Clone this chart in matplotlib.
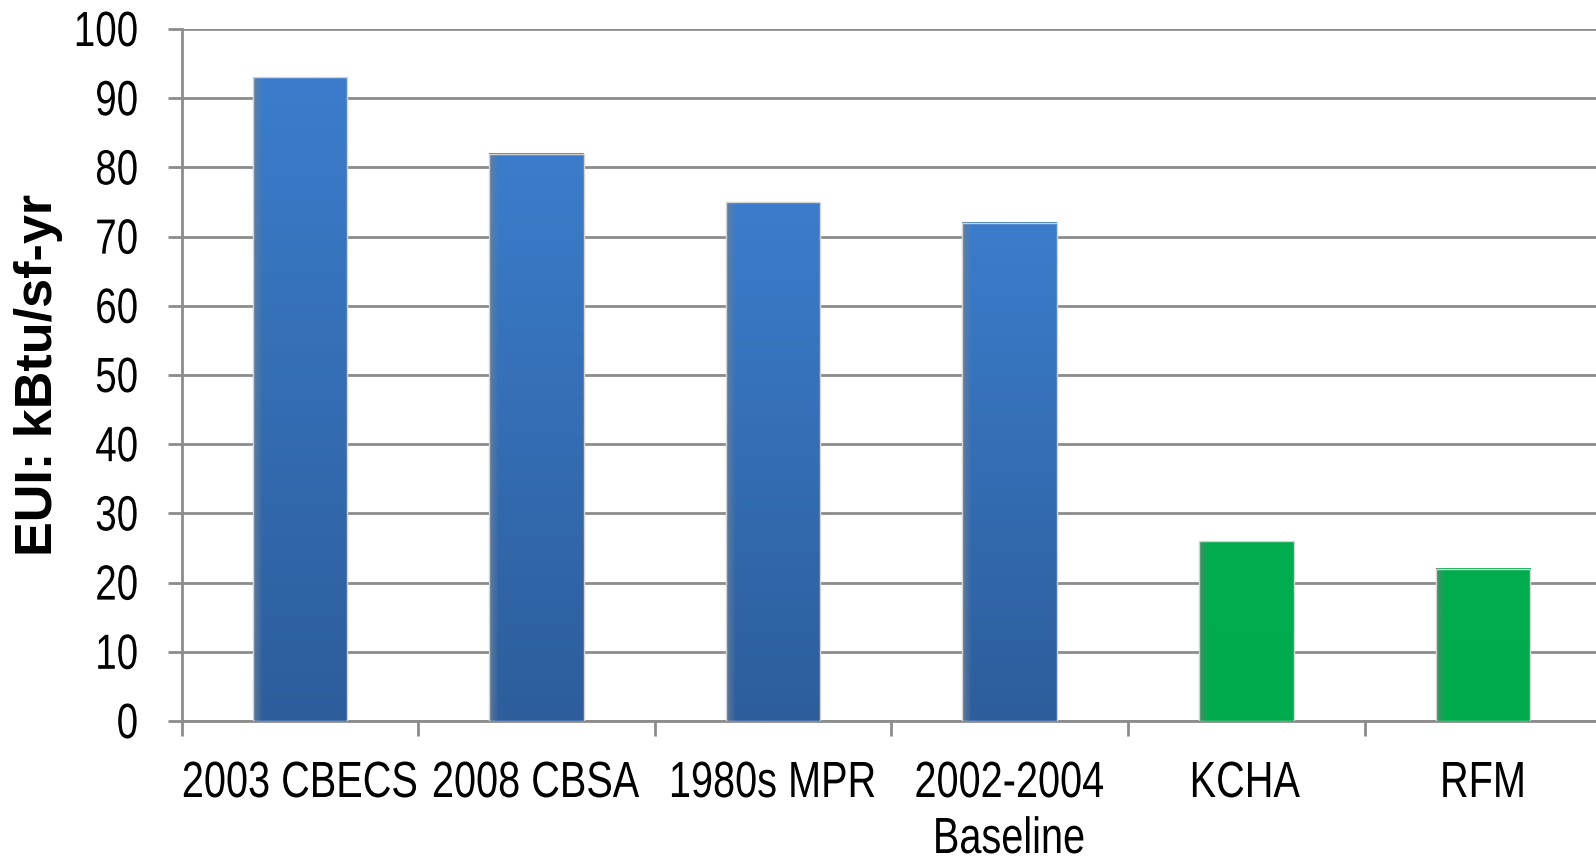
import numpy as np
import matplotlib.pyplot as plt
import matplotlib.transforms as mtransforms
from matplotlib.colors import to_rgb
from matplotlib.font_manager import FontProperties
from matplotlib.patches import PathPatch
from matplotlib.textpath import TextPath

categories = ["2003 CBECS", "2008 CBSA", "1980s MPR", "2002-2004\nBaseline", "KCHA", "RFM"]
eui = [93, 82, 75, 72, 26, 22]
# blue = reference surveys/baselines, green = measured buildings
bar_group = ["blue", "blue", "blue", "blue", "green", "green"]
y_ticks = list(range(0, 101, 10))

STYLES = {
    "blue": dict(top="#3b7dcc", bottom="#2d5d9b", edge="#6b7f96"),
    "green": dict(top="#00ad4e", bottom="#00ab4d", edge="#4f8a6b"),
}
GRID = "#8c8c8c"

plt.rcParams["font.family"] = ["Liberation Sans", "DejaVu Sans"]

# condensed tick-label font: regular sans squeezed horizontally
LABEL_FONT = FontProperties(family="Liberation Sans")
SQUEEZE = 0.78
_cap_ref = TextPath((0, 0), "H", size=100, prop=LABEL_FONT).get_extents().height

fig = plt.figure(figsize=(15.96, 8.56), dpi=100)
ax = fig.add_axes([0.1138, 0.1577, 0.8895, 0.8084])


def narrow_text(s, x, y, base_trans, dx, dy, cap_px, ha="center", va="baseline"):
    path = TextPath((0, 0), s, size=100 * cap_px / _cap_ref, prop=LABEL_FONT)
    ext = path.get_extents()
    width = SQUEEZE * ext.width
    left = SQUEEZE * ext.x0
    if ha == "center":
        ox = -left - width / 2
    elif ha == "right":
        ox = -left - width
    else:
        ox = -left
    oy = -cap_px / 2 if va == "capcenter" else 0
    trans = (mtransforms.Affine2D().scale(SQUEEZE, 1).translate(ox + dx, oy + dy)
             + mtransforms.ScaledTranslation(x, y, base_trans))
    patch = PathPatch(path, transform=trans, facecolor="black", edgecolor="none",
                      clip_on=False)
    fig.add_artist(patch)


x = np.arange(len(categories))
bars = ax.bar(x, eui, width=0.40, color="none", edgecolor="none", zorder=3)


def gradient_fill(style, nx=120, ny=200):
    top = np.array(to_rgb(style["top"]))
    bot = np.array(to_rgb(style["bottom"]))
    edge = np.array(to_rgb(style["edge"]))
    t = np.linspace(0, 1, ny)[:, None, None]
    img = top * (1 - t) + bot * t
    img = np.repeat(img, nx, axis=1)
    # soft shaded strip on the left side of each bar
    s = np.linspace(0, 1, nx)
    w = np.clip(1 - s / 0.10, 0, 1)[None, :, None] * 0.85
    return img * (1 - w) + edge * w


for rect, grp in zip(bars, bar_group):
    x0, w, h = rect.get_x(), rect.get_width(), rect.get_height()
    ax.imshow(gradient_fill(STYLES[grp]), extent=(x0, x0 + w, 0, h),
              aspect="auto", interpolation="bilinear", zorder=3)
    ax.add_patch(plt.Rectangle((x0, 0), w, h, fill=False, edgecolor="#d4d4d4",
                               linewidth=1.0, zorder=4))

ax.set_xlim(-0.5, len(categories) - 0.5)
ax.set_ylim(0, 100)
ax.set_yticks(y_ticks)
ax.yaxis.grid(True, color=GRID, linewidth=2.0, zorder=0)
ax.set_axisbelow(True)

ax.set_xticks(np.arange(len(categories) + 1) - 0.5)
ax.tick_params(axis="x", length=11, width=2.0, color=GRID, labelbottom=False)
ax.tick_params(axis="y", length=10, width=2.0, color=GRID, labelleft=False)

for side in ("top", "right"):
    ax.spines[side].set_visible(False)
for side in ("left", "bottom"):
    ax.spines[side].set_color(GRID)
    ax.spines[side].set_linewidth(2.0)

# tick labels
for v in y_ticks:
    narrow_text(str(v), 0, v, ax.get_yaxis_transform(), -45, 0, 34,
                ha="right", va="capcenter")
for xi, label in zip(x, categories):
    for k, line in enumerate(label.split("\n")):
        narrow_text(line, xi, 0, ax.get_xaxis_transform(), 0, -76 - 56 * k, 35)

ax.set_ylabel("EUI: kBtu/sf-yr", fontsize=37.5, fontweight="bold")
ax.yaxis.set_label_coords(-0.0835, 0.5)

fig.savefig("out.png", dpi=100)
